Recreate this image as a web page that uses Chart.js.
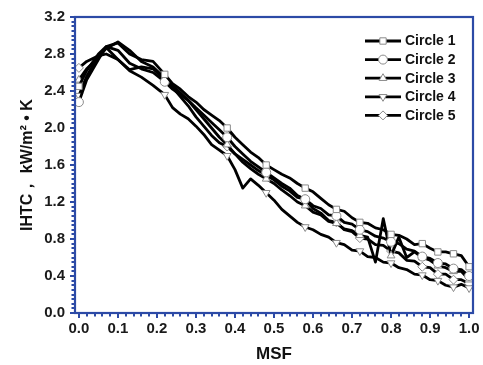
<!DOCTYPE html>
<html><head><meta charset="utf-8">
<script src="https://cdn.jsdelivr.net/npm/chart.js@4.4.0/dist/chart.umd.min.js"></script>
<style>html,body{margin:0;padding:0;background:#fff;}canvas{display:block;}</style>
</head><body>
<canvas id="c" width="483" height="365"></canvas>
<script>
// ---- data ----
const msf = [0,0.02,0.05,0.07,0.10,0.13,0.16,0.19,0.22,0.24,0.26,0.28,0.30,0.32,0.34,0.36,0.38,0.40,0.42,0.44,0.46,0.48,0.50,0.52,0.54,0.56,0.58,0.60,0.62,0.64,0.66,0.68,0.70,0.72,0.74,0.76,0.78,0.80,0.82,0.84,0.86,0.88,0.90,0.92,0.94,0.96,0.98,1.00];
const circle1 = [2.45,2.62,2.80,2.88,2.92,2.80,2.74,2.72,2.58,2.48,2.42,2.34,2.28,2.20,2.14,2.08,2.00,1.90,1.82,1.74,1.68,1.60,1.55,1.50,1.46,1.40,1.35,1.31,1.24,1.17,1.12,1.10,1.03,0.98,0.97,0.92,0.90,0.85,0.84,0.80,0.74,0.75,0.70,0.66,0.66,0.64,0.62,0.50];
const circle2 = [2.28,2.52,2.74,2.88,2.84,2.70,2.64,2.60,2.50,2.42,2.36,2.30,2.22,2.14,2.06,1.98,1.90,1.80,1.72,1.64,1.58,1.52,1.46,1.40,1.35,1.27,1.23,1.16,1.13,1.06,1.05,0.98,0.96,0.90,0.88,0.83,0.81,0.77,0.75,0.69,0.67,0.61,0.59,0.54,0.53,0.48,0.47,0.40];
const circle3 = [2.52,2.64,2.76,2.86,2.93,2.84,2.72,2.66,2.54,2.46,2.38,2.30,2.20,2.10,2.00,1.90,1.82,1.72,1.63,1.56,1.50,1.45,1.40,1.33,1.27,1.20,1.16,1.09,1.06,0.99,0.97,0.91,0.89,0.84,0.82,0.55,1.02,0.62,0.82,0.60,0.66,0.60,0.57,0.51,0.49,0.45,0.45,0.36];
const circle4 = [2.35,2.56,2.78,2.87,2.74,2.62,2.55,2.46,2.36,2.22,2.15,2.10,2.02,1.93,1.82,1.76,1.70,1.55,1.35,1.45,1.38,1.30,1.22,1.12,1.05,0.98,0.93,0.90,0.85,0.82,0.76,0.74,0.68,0.67,0.61,0.60,0.55,0.54,0.49,0.47,0.42,0.41,0.36,0.35,0.30,0.28,0.31,0.27];
const circle5 = [2.65,2.72,2.78,2.80,2.74,2.63,2.66,2.64,2.52,2.44,2.34,2.24,2.12,2.02,1.92,1.84,1.80,1.72,1.66,1.60,1.54,1.49,1.44,1.37,1.32,1.25,1.23,1.13,1.08,1.00,0.98,0.90,0.88,0.81,0.80,0.74,0.73,0.67,0.65,0.57,0.56,0.50,0.49,0.42,0.42,0.36,0.36,0.32];
const seriesLabels = ['Circle 1','Circle 2','Circle 3','Circle 4','Circle 5'];
const seriesValues = [circle1, circle2, circle3, circle4, circle5];
const markerStyles = ['rect','circle','triangle','triangle','rectRot'];
const markerRotations = [0,0,0,180,0];
const markerIdx = [0,8,16,21,26,30,33,37,41,43,45,47];
const xTickLabels = [0,0.1,0.2,0.3,0.4,0.5,0.6,0.7,0.8,0.9,1.0];
const yTickLabels = [0,0.4,0.8,1.2,1.6,2.0,2.4,2.8,3.2];
const xTitle = 'MSF';
const yTitle = 'IHTC\uFF0C kW/m\u00B2 \u2022 K';

const BLUE = '#2c4aa6';
const FONT = "'Liberation Sans', Arial, sans-serif";

const datasets = seriesValues.map((vals, s) => ({
  label: seriesLabels[s],
  data: msf.map((x, i) => ({x: x, y: vals[i]})),
  borderColor: '#000',
  borderWidth: 2.8,
  borderJoinStyle: 'round',
  tension: 0,
  pointStyle: markerStyles[s],
  pointRotation: markerRotations[s],
  pointRadius: (ctx) => markerIdx.includes(ctx.dataIndex) ? 4.5 : 0,
  pointHoverRadius: 0,
  pointBackgroundColor: '#fff',
  pointBorderColor: '#8a8a8a',
  pointBorderWidth: 1
}));

const framePlugin = {
  id: 'frame',
  afterDraw(chart) {
    const {ctx, chartArea: a, scales: {x, y}} = chart;
    ctx.save();
    ctx.strokeStyle = BLUE;
    ctx.lineWidth = 2.2;
    ctx.strokeRect(a.left, a.top, a.right - a.left, a.bottom - a.top);
    ctx.lineWidth = 2;
    ctx.beginPath();
    for (let k = 0; k <= 50; k++) {
      const px = Math.round(x.getPixelForValue(k * 0.02));
      const len = (k % 5 === 0) ? 5 : 3.5;
      ctx.moveTo(px, a.bottom);
      ctx.lineTo(px, a.bottom + len);
    }
    for (let k = 0; k <= 64; k++) {
      const py = Math.round(y.getPixelForValue(k * 0.05));
      const len = (k % 8 === 0) ? 5 : 3.5;
      ctx.moveTo(a.left, py);
      ctx.lineTo(a.left - len, py);
    }
    ctx.stroke();
    ctx.restore();
  }
};

const legendPlugin = {
  id: 'insideLegend',
  afterDraw(chart) {
    const ctx = chart.ctx;
    ctx.save();
    chart.data.datasets.forEach((ds, i) => {
      const yy = 41 + i * 18.6;
      ctx.strokeStyle = '#000';
      ctx.lineWidth = 2.8;
      ctx.beginPath();
      ctx.moveTo(365, yy);
      ctx.lineTo(401, yy);
      ctx.stroke();
      ctx.fillStyle = '#fff';
      ctx.strokeStyle = '#8a8a8a';
      ctx.lineWidth = 1;
      Chart.helpers.drawPoint(ctx, {pointStyle: ds.pointStyle, rotation: ds.pointRotation, radius: 4.5, borderWidth: 1}, 383, yy);
      ctx.fillStyle = '#111';
      ctx.font = 'bold 14px ' + FONT;
      ctx.textBaseline = 'middle';
      ctx.textAlign = 'left';
      ctx.fillText(ds.label, 405, yy + 0.5);
    });
    ctx.restore();
  }
};

new Chart(document.getElementById('c'), {
  type: 'line',
  data: {datasets},
  options: {
    responsive: false,
    devicePixelRatio: 1,
    animation: false,
    events: [],
    layout: {padding: {top: 17, right: 10, left: 0, bottom: 0}},
    plugins: {legend: {display: false}, tooltip: {enabled: false}},
    scales: {
      x: {
        type: 'linear', min: -0.01, max: 1.01,
        afterBuildTicks: (s) => { s.ticks = xTickLabels.map(v => ({value: v})); },
        afterFit: (s) => { s.height = 52; },
        grid: {display: false, drawTicks: true, tickLength: 4},
        border: {display: false},
        ticks: {
          padding: 3, maxRotation: 0, autoSkip: false, color: '#1a1a1a',
          font: {family: FONT, size: 15, weight: 'bold'},
          callback: (v) => Number(v).toFixed(1)
        },
        title: {display: true, text: xTitle, color: '#111', padding: {top: 0, bottom: 0},
          font: {family: FONT, size: 17, weight: 'bold'}}
      },
      y: {
        type: 'linear', min: 0, max: 3.2,
        afterBuildTicks: (s) => { s.ticks = yTickLabels.map(v => ({value: v})); },
        afterFit: (s) => { s.width = 75; },
        grid: {display: false, drawTicks: true, tickLength: 5},
        border: {display: false},
        ticks: {
          padding: 5, autoSkip: false, color: '#1a1a1a',
          font: {family: FONT, size: 15, weight: 'bold'},
          callback: (v) => Number(v).toFixed(1)
        },
        title: {display: true, text: yTitle, color: '#111', padding: {top: 18, bottom: 0},
          font: {family: FONT, size: 16, weight: 'bold'}}
      }
    }
  },
  plugins: [framePlugin, legendPlugin]
});
</script>
</body></html>
